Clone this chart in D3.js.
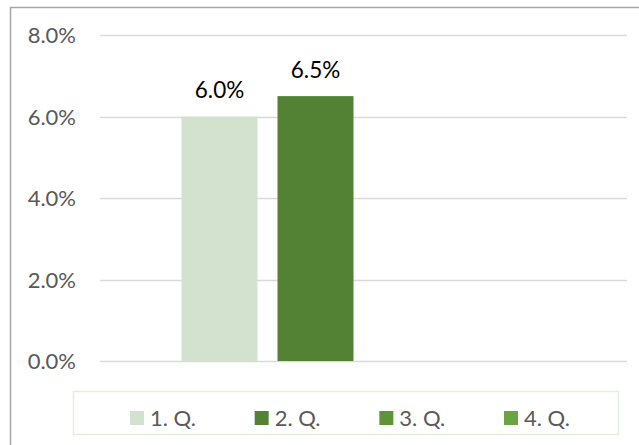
<!DOCTYPE html>
<html><head><meta charset="utf-8">
<script src="https://cdn.jsdelivr.net/npm/d3@7"></script>
<style>body{margin:0;background:#fff}svg{display:block}</style>
</head><body>
<svg id="c" width="639" height="445"></svg>
<script>
const categories = ["2023"];
const seriesNames = ["1. Q.", "2. Q.", "3. Q.", "4. Q."];
const seriesValues = [0.060, 0.065, null, null];
const seriesColors = ["#d3e2cf", "#548235", "#5e9439", "#6aa541"];
const yTicks = [0, 0.02, 0.04, 0.06, 0.08];
const titleText = "Average annual earnings";

const svg = d3.select("#c");
const font = "Lato, 'Open Sans', sans-serif";

// chart frame (extends beyond the viewport right/bottom)
svg.append("rect").attr("x", 10.5).attr("y", 7.5).attr("width", 700).attr("height", 500)
  .attr("fill", "#fff").attr("stroke", "#a6a6a6").attr("stroke-width", 1.5);

// title (mostly cut off above the viewport; only descenders visible)
const title = svg.append("text").attr("x", 0).attr("y", -20)
  .attr("font-family", font).attr("font-weight", "bold").attr("font-size", 26)
  .attr("fill", "#000").text(titleText);
try {
  const node = title.node();
  const idx = [];
  for (let i = 0; i < titleText.length; i++) if (titleText[i] === "g") idx.push(i);
  const cx = i => { const s = node.getStartPositionOfChar(i).x, e = node.getEndPositionOfChar(i).x; return (s + e) / 2; };
  const gap = cx(idx[idx.length-1]) - cx(idx[0]);
  const fs = 26 * 198 / gap;
  title.attr("font-size", fs);
  title.attr("x", 188 - cx(idx[0]));
  title.attr("y", -3.8);
} catch (e) {}

const plotL = 100, plotR = 627;
const y = d3.scaleLinear().domain([0, 0.08]).range([361, 35]);
const x0 = d3.scaleBand().domain(categories).range([plotL, plotR]).paddingInner(0).paddingOuter(0.1862);
const x1 = d3.scaleBand().domain(seriesNames).range([0, x0.bandwidth()]).paddingInner(0.2083).paddingOuter(0.1042);

// gridlines
svg.append("g").selectAll("line").data(yTicks).join("line")
  .attr("x1", plotL).attr("x2", plotR)
  .attr("y1", d => Math.round(y(d)) + 0.5).attr("y2", d => Math.round(y(d)) + 0.5)
  .attr("stroke", "#d9d9d9").attr("stroke-width", 1.5);

// y axis labels
const yAxis = d3.axisLeft(y).tickValues(yTicks).tickFormat(d3.format(".1%")).tickSize(0).tickPadding(0);
const ga = svg.append("g").attr("transform", "translate(76,0)").call(yAxis);
ga.select(".domain").remove();
ga.selectAll("text").attr("font-family", font).attr("font-size", 22).attr("fill", "#595959")
  .attr("dy", "0.36em");

// bars
const data = [];
categories.forEach(c => seriesNames.forEach((s, i) => {
  if (seriesValues[i] != null) data.push({c, s, v: seriesValues[i], color: seriesColors[i]});
}));
const gb = svg.append("g");
gb.selectAll("rect").data(data).join("rect")
  .attr("x", d => x0(d.c) + x1(d.s)).attr("width", x1.bandwidth())
  .attr("y", d => y(d.v)).attr("height", d => y(0) - y(d.v))
  .attr("fill", d => d.color);
gb.selectAll("text").data(data).join("text")
  .attr("x", d => x0(d.c) + x1(d.s) + x1.bandwidth() / 2)
  .attr("y", d => y(d.v) - 18.5)
  .attr("text-anchor", "middle").attr("font-family", font).attr("font-size", 22.5)
  .attr("fill", "#000").text(d => d3.format(".1%")(d.v));

// legend
svg.append("rect").attr("x", 73.5).attr("y", 391.5).attr("width", 545).attr("height", 43)
  .attr("fill", "none").attr("stroke", "#e2efda").attr("stroke-width", 1.5);
const lx = d3.scalePoint().domain(seriesNames).range([130, 504]);
const lg = svg.append("g").selectAll("g").data(seriesNames).join("g")
  .attr("transform", d => `translate(${lx(d)},411)`);
lg.append("rect").attr("width", 14).attr("height", 14).attr("fill", (d, i) => seriesColors[i]);
lg.append("text").attr("x", 20).attr("y", 14.5).attr("font-family", font).attr("font-size", 22)
  .attr("fill", "#595959").text(d => d);
</script>
</body></html>
